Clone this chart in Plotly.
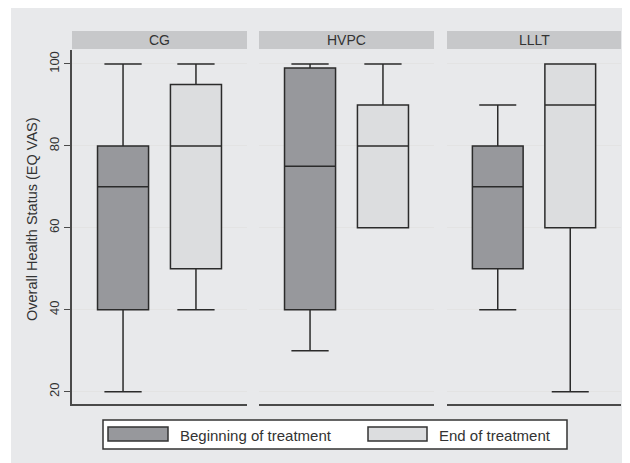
import plotly.graph_objects as go

# ---- data ----
groups = ["CG", "HVPC", "LLLT"]
periods = ["Beginning of treatment", "End of treatment"]

begin_low = [20, 30, 40]
begin_q1 = [40, 40, 50]
begin_med = [70, 75, 70]
begin_q3 = [80, 99, 80]
begin_high = [100, 100, 90]

end_low = [40, 60, 20]
end_q1 = [50, 60, 60]
end_med = [80, 80, 90]
end_q3 = [95, 90, 100]
end_high = [100, 100, 100]

y_ticks = [20, 40, 60, 80, 100]
y_title = "Overall Health Status (EQ VAS)"

# ---- style ----
OFF = 8  # browser body margin
W, H = 630 - OFF, 463 - OFF
fills = ["#97989c", "#dcdddf"]
line_col = "#2b2b2b"
bg_col = "#e8e9eb"
strip_col = "#c7c8ca"
font_fam = "Arial, Liberation Sans, sans-serif"

def px_x(p):
    return (p - OFF) / W

def px_y(p):
    return 1 - (p - OFF) / H

panel_px = [(72, 247), (259, 434), (447, 621)]
plot_top, plot_bot = 50, 404
strip_top, strip_bot = 31, 49

fig = go.Figure()

stats = [
    (begin_low, begin_q1, begin_med, begin_q3, begin_high),
    (end_low, end_q1, end_med, end_q3, end_high),
]

for gi, g in enumerate(groups):
    suffix = "" if gi == 0 else str(gi + 1)
    for pi, per in enumerate(periods):
        lo, q1, md, q3, hi = stats[pi]
        fig.add_trace(go.Box(
            x=[per], q1=[q1[gi]], median=[md[gi]], q3=[q3[gi]],
            lowerfence=[lo[gi]], upperfence=[hi[gi]],
            xaxis="x" + suffix, yaxis="y" + suffix,
            fillcolor=fills[pi], line=dict(color=line_col, width=1.5),
            width=0.7, whiskerwidth=0.73, boxpoints=False,
            showlegend=False, name=per, hoverinfo="skip",
        ))

layout = dict(
    width=W, height=H,
    margin=dict(l=0, r=0, t=0, b=0),
    paper_bgcolor="white", plot_bgcolor="white",
    font=dict(family=font_fam, color="#333333"),
    showlegend=False,
)

ydom = [px_y(plot_bot), px_y(plot_top)]
shapes = [dict(type="rect", xref="paper", yref="paper",
               x0=px_x(11), x1=1.0, y0=0, y1=1.0,
               fillcolor=bg_col, line=dict(width=0), layer="below")]
annotations = []

for gi, g in enumerate(groups):
    suffix = "" if gi == 0 else str(gi + 1)
    x0, x1 = panel_px[gi]
    layout["xaxis" + suffix] = dict(
        domain=[px_x(x0), px_x(x1)], anchor="y" + suffix,
        type="category", categoryorder="array", categoryarray=periods,
        range=[-0.7, 1.7], showticklabels=False, ticks="",
        showgrid=False, zeroline=False,
        showline=True, linecolor="#4a4a4a", linewidth=1.6,
        fixedrange=True,
    )
    ax = dict(
        domain=ydom, anchor="x" + suffix,
        range=[17.0, 103.4], tickvals=y_ticks,
        showgrid=True, gridcolor="#e3e3e3", gridwidth=1,
        zeroline=False, fixedrange=True,
    )
    if gi == 0:
        ax.update(showline=True, linecolor="#4a4a4a", linewidth=1.6,
                  ticks="outside", ticklen=6, tickcolor="#4a4a4a",
                  tickangle=-90, tickfont=dict(size=13, color="#333333"))
    else:
        ax.update(showline=False, showticklabels=False, ticks="",
                  matches="y")
    layout["yaxis" + suffix] = ax

    shapes.append(dict(type="rect", xref="paper", yref="paper",
                       x0=px_x(x0), x1=px_x(x1),
                       y0=px_y(strip_bot), y1=px_y(strip_top),
                       fillcolor=strip_col, line=dict(width=0)))
    annotations.append(dict(xref="paper", yref="paper",
                            x=px_x((x0 + x1) / 2), y=px_y((strip_top + strip_bot) / 2),
                            text=g, showarrow=False, xanchor="center", yanchor="middle",
                            font=dict(size=14, color="#333333")))

# y axis title
annotations.append(dict(xref="paper", yref="paper", x=px_x(32), y=px_y(219),
                        text=y_title, textangle=-90, showarrow=False,
                        xanchor="center", yanchor="middle",
                        font=dict(size=14.5, color="#333333")))

# legend box
shapes.append(dict(type="rect", xref="paper", yref="paper",
                   x0=px_x(103), x1=px_x(567), y0=px_y(449), y1=px_y(420),
                   fillcolor="white", line=dict(color="#333333", width=1.5)))
sw = [(108, 168, 178), (368, 427, 437)]
for pi, per in enumerate(periods):
    s0, s1, tx = sw[pi]
    shapes.append(dict(type="rect", xref="paper", yref="paper",
                       x0=px_x(s0), x1=px_x(s1), y0=px_y(441), y1=px_y(427),
                       fillcolor=fills[pi], line=dict(color="#333333", width=1.5)))
    annotations.append(dict(xref="paper", yref="paper", x=px_x(tx), y=px_y(435),
                            text=per, showarrow=False, xanchor="left", yanchor="middle",
                            font=dict(size=15, color="#333333")))

layout["shapes"] = shapes
layout["annotations"] = annotations
fig.update_layout(**layout)

fig.write_html("out.html")
